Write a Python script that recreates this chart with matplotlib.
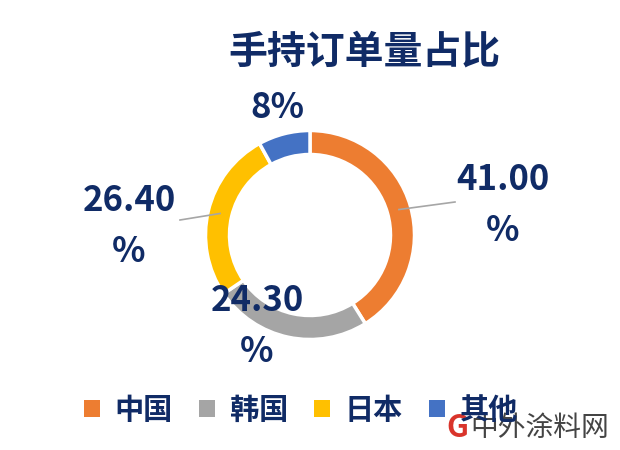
import numpy as np
import matplotlib
matplotlib.use("Agg")
import matplotlib.pyplot as plt

plt.rcParams['font.family'] = ['Noto Sans CJK SC', 'DejaVu Sans']

# data
categories = ["中国", "韩国", "日本", "其他"]
shares = [41.00, 24.30, 26.40, 8.0]
label_texts = ["41.00\n%", "24.30\n%", "26.40\n%", "8%"]
colors = ["#ED7D31", "#A5A5A5", "#FFC000", "#4472C4"]
title = "手持订单量占比"

navy = "#102B66"
W, H = 620, 450

fig = plt.figure(figsize=(6.2, 4.5), dpi=100)
fig.patch.set_facecolor("white")

# donut axes: centre at (310, 235) px, box 220 px wide
cx, cy, half = 310, 235, 110
ax = fig.add_axes([(cx - half) / W, (H - cy - half) / H, 2 * half / W, 2 * half / H])
R = 104.5 / half
ring = 24 / half
wedges, _ = ax.pie(shares, colors=colors, startangle=90, counterclock=False,
                   radius=R, wedgeprops=dict(width=ring, edgecolor="white", linewidth=2.5))
ax.set_xlim(-1, 1)
ax.set_ylim(-1, 1)
ax.set_aspect("equal")
ax.axis("off")

# leader lines for 中国 and 日本 labels
mid_r = R - ring / 2
for i, end in [(0, (455, 202)), (2, (180, 220))]:
    w = wedges[i]
    ang = np.deg2rad((w.theta1 + w.theta2) / 2)
    x0, y0 = mid_r * np.cos(ang), mid_r * np.sin(ang)
    x1 = (end[0] - cx) / half
    y1 = (cy - end[1]) / half
    ax.plot([x0, x1], [y0, y1], color="#A6A6A6", lw=1.2, clip_on=False)

# data labels (pixel positions of label block centres)
label_pos = [(503, 205), (257, 326), (129, 226), (277, 107)]
for txt, (px, py) in zip(label_texts, label_pos):
    fig.text(px / W, 1 - py / H, txt, ha="center", va="center", multialignment="center",
             fontsize=25, fontweight="heavy", color=navy, linespacing=1.55)

fig.text(364 / W, 1 - 52 / H, title, ha="center", va="center",
         fontsize=28, fontweight="heavy", color=navy)

leg = fig.legend(wedges, categories, loc="center", bbox_to_anchor=(301 / W, 1 - 410 / H),
                 ncol=4, frameon=False, prop=dict(size=21, weight="heavy"),
                 handlelength=0.55, handleheight=0.55, handletextpad=0.5,
                 columnspacing=0.9, borderpad=0)
for t in leg.get_texts():
    t.set_color(navy)
for h in leg.legend_handles:
    h.set_edgecolor("none")

# watermark
fig.text(470 / W, 1 - 428 / H, "中外涂料网", ha="left", va="center",
         fontsize=20, color="#444444")
fig.text(457 / W, 1 - 428 / H, "G", ha="center", va="center",
         fontsize=22, fontweight="bold", color="#D9342B")

fig.savefig("out.png", dpi=100)
